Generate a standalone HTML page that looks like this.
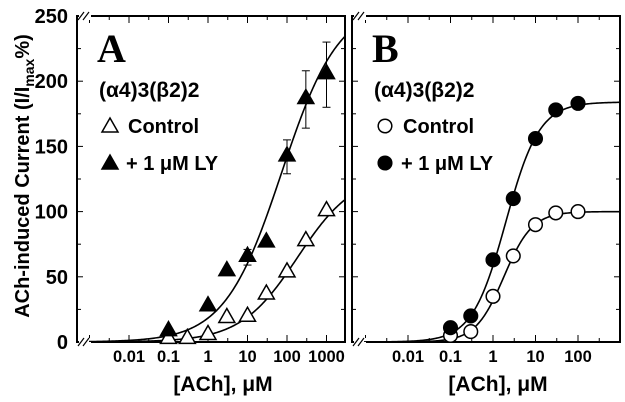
<!DOCTYPE html>
<html><head><meta charset="utf-8"><style>
body{margin:0;background:#fff}
svg{display:block;font-family:"Liberation Sans",sans-serif;font-weight:bold}
</style></head><body>
<svg id="c" width="625" height="402" viewBox="0 0 625 402"></svg>
<script>
const concA=[0.1,0.3,1,3,10,30,100,300,1000];
const ctrlA=[2,2,5,18,19,36,53,77,100];
const concALY=[0.1,1,3,10,30,100,300,1000];
const lyA=[8,27,54,65,76,142,186,205];
const lyAErr=[0,0,0,6,0,13,22,25];
const concB=[0.1,0.3,1,3,10,30,100];
const ctrlB=[5,8,35,66,90,99,100];
const lyB=[11,20,63,110,156,178,183];
const yTicks=[0,50,100,150,200,250];
const xTicksA=["0.01","0.1","1","10","100","1000"];
const xTicksB=["0.01","0.1","1","10","100"];
const fitCtrlA=[130,186,0.6], fitLyA=[260,73.4,0.6], fitCtrlB=[100,1.8,1.3], fitLyB=[184,2,1.1];

const NS="http://www.w3.org/2000/svg";
const svg=document.getElementById('c');
function el(t,a,p){const e=document.createElementNS(NS,t);for(const k in a)e.setAttribute(k,a[k]);(p||svg).appendChild(e);return e;}
const topY=16,botY=342;
const Y=v=>botY-v*(botY-topY)/250;
const panels=[
 {id:'a',l:77,r:345,x1:208,dec:39.5,ticks:xTicksA,letter:'A',tri:true},
 {id:'b',l:352,r:620,x1:493,dec:42.5,ticks:xTicksB,letter:'B',tri:false}];
function hill(f,x){return f[0]/(1+Math.pow(f[1]/x,f[2]));}
function marker(g,cx,cy,filled,tri,name){
 let m;
 if(tri){m=el('polygon',{points:`${cx},${cy-8} ${cx+8},${cy+6} ${cx-8},${cy+6}`,fill:filled?'#000':'#fff',stroke:'#000','stroke-width':1.5},g);}
 else{m=el('circle',{cx,cy,r:6.8,fill:filled?'#000':'#fff',stroke:'#000','stroke-width':1.5},g);}
 
 
}
panels.forEach(p=>{
 const X=c=>p.x1+Math.log10(c)*p.dec;
 const g=el('g',{});
 
 
 const fr=el('rect',{x:p.l,y:topY,width:p.r-p.l,height:botY-topY,fill:'none',stroke:'#000','stroke-width':2},g);
 
 
 for(let v=0;v<=250;v+=25){const y=Y(v),L=v%50?4:6;
  el('line',{x1:p.l,x2:p.l+L,y1:y,y2:y,stroke:'#000','stroke-width':1},g);
  el('line',{x1:p.r,x2:p.r-L,y1:y,y2:y,stroke:'#000','stroke-width':1},g);}
 for(let k=-3;k<=4;k+=0.5){const x=p.x1+k*p.dec;if(x<p.l+8||x>p.r-2)continue;const L=k%1?4:7;
  el('line',{x1:x,x2:x,y1:botY,y2:botY-L,stroke:'#000','stroke-width':1},g);
  el('line',{x1:x,x2:x,y1:topY,y2:topY+L,stroke:'#000','stroke-width':1},g);}
 [[p.l,topY],[p.l,botY]].forEach(([bx,by])=>{
  el('rect',{x:bx+2,y:by-4,width:12,height:8,fill:'#fff'},g);
  el('line',{x1:bx+1,y1:by+4,x2:bx+7,y2:by-4,stroke:'#000','stroke-width':1.2},g);
  el('line',{x1:bx+6,y1:by+4,x2:bx+12,y2:by-4,stroke:'#000','stroke-width':1.2},g);});
 p.ticks.forEach((t,i)=>{const tx=el('text',{x:X(parseFloat(t)),y:362,'text-anchor':'middle','font-size':16.5},g);tx.textContent=t;
  });
 const xl=el('text',{x:(p.l+p.r)/2+12,y:391,'text-anchor':'middle','font-size':21},g);xl.textContent='[ACh], μM';
 
 const lt=el('text',{x:p.l+20,y:62,'font-size':40,'font-family':'"Liberation Serif",serif'},g);lt.textContent=p.letter;
 
 const sub=el('text',{x:p.l+22,y:97,'font-size':21},g);sub.textContent='(α4)3(β2)2';
 
 marker(g,p.l+33,126,false,p.tri,'legend-control-marker');
 const l1=el('text',{x:p.l+51,y:133,'font-size':20},g);l1.textContent='Control';
 
 marker(g,p.l+33,163,true,p.tri,'legend-ly-marker');
 const l2=el('text',{x:p.l+49,y:170,'font-size':20},g);l2.textContent='+ 1 μM LY';
 
 const fits=p.tri?[fitCtrlA,fitLyA]:[fitCtrlB,fitLyB];
 const clip=el('clipPath',{id:'clip'+p.id},g);el('rect',{x:p.l,y:topY,width:p.r-p.l,height:botY-topY},clip);
 fits.forEach((f,i)=>{let d='';for(let px=p.l+12;px<=p.r;px+=1){const c=Math.pow(10,(px-p.x1)/p.dec);d+=(d?'L':'M')+px+','+Y(hill(f,c)).toFixed(2);}
  const pa=el('path',{d,fill:'none',stroke:'#000','stroke-width':1.6,'clip-path':`url(#clip${p.id})`},g);
  });
 if(p.tri){
  concALY.forEach((c,i)=>{if(lyAErr[i]){const x=X(c);
   el('line',{x1:x,x2:x,y1:Y(lyA[i]-lyAErr[i]),y2:Y(lyA[i]+lyAErr[i]),stroke:'#000','stroke-width':1},g);
   [lyA[i]-lyAErr[i],lyA[i]+lyAErr[i]].forEach(v=>el('line',{x1:x-4,x2:x+4,y1:Y(v),y2:Y(v),stroke:'#000','stroke-width':1},g));}});
  concA.forEach((c,i)=>marker(g,X(c),Y(ctrlA[i])-2,false,true,'point-control'));
  concALY.forEach((c,i)=>marker(g,X(c),Y(lyA[i])-2,true,true,'point-ly'));
 } else {
  concB.forEach((c,i)=>marker(g,X(c),Y(ctrlB[i]),false,false,'point-control'));
  concB.forEach((c,i)=>marker(g,X(c),Y(lyB[i]),true,false,'point-ly'));
 }
});
yTicks.forEach(v=>{const t=el('text',{x:68,y:Y(v)+7,'text-anchor':'end','font-size':20});t.textContent=v;
 });
const yt=el('text',{x:0,y:0,'text-anchor':'middle','font-size':20,transform:'translate(29,176) rotate(-90)'});

yt.innerHTML='ACh-induced Current (I/I<tspan font-size="14" dy="5">max</tspan><tspan dy="-5">%)</tspan>';
</script>
</body></html>
